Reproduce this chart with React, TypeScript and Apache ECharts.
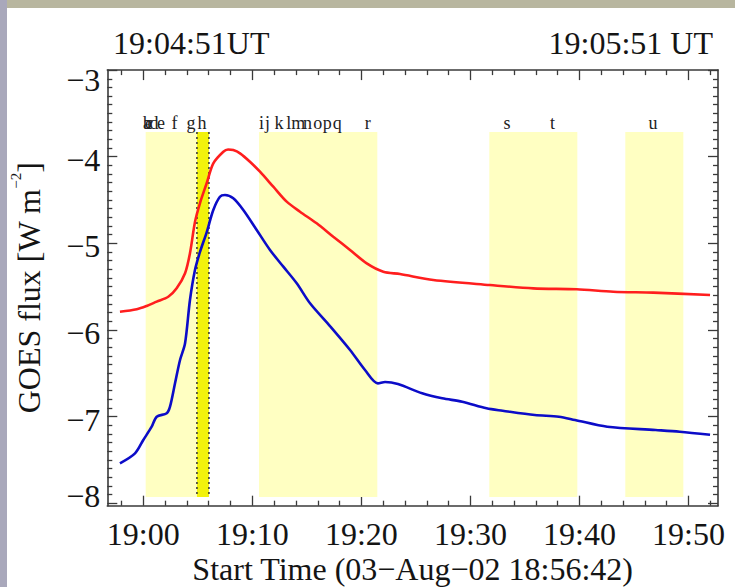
import React, { useEffect, useRef } from 'react';
import * as echarts from 'echarts';

const FONT = '"Liberation Serif", "Times New Roman", serif';

// Time axis: minutes after 19:00 UT (start time 18:56:42)
const xMin = -3.3;
const xMax = 52.7;
const yMin = -8.03;
const yMax = -3;

// GOES long channel (1-8 A), log10 flux
const redTime = [-2.14, -0.6, 0.31, 1.23, 2.29, 3.06, 3.83, 4.28, 4.74, 5.2, 5.82, 6.42, 7.34, 7.77, 8.25, 8.87, 9.78, 10.7, 11.92, 13.15, 14.37, 15.9, 17.42, 18.96, 20.49, 22.01, 23.54, 26.59, 31.79, 35.76, 39.74, 43.1, 46.77, 51.97];
const redFlux = [-5.79, -5.762, -5.724, -5.674, -5.617, -5.52, -5.346, -5.115, -4.754, -4.535, -4.304, -4.076, -3.942, -3.917, -3.923, -3.961, -4.058, -4.173, -4.346, -4.519, -4.635, -4.769, -4.924, -5.077, -5.231, -5.328, -5.355, -5.424, -5.482, -5.52, -5.531, -5.559, -5.57, -5.597];

// GOES short channel (0.5-4 A), log10 flux
const blueTime = [-2.14, -0.76, 0.0, 0.77, 1.23, 2.15, 2.45, 2.91, 3.37, 3.83, 4.28, 4.74, 5.2, 5.82, 6.42, 7.03, 7.49, 8.25, 9.17, 10.4, 11.62, 12.84, 14.07, 15.29, 17.12, 18.96, 20.33, 21.51, 22.17, 23.35, 25.57, 27.41, 29.25, 31.47, 32.95, 35.9, 38.11, 39.59, 42.54, 46.98, 49.19, 51.97];
const blueFlux = [-7.54, -7.425, -7.271, -7.118, -7.002, -6.963, -6.887, -6.617, -6.348, -6.155, -5.655, -5.308, -5.1, -4.87, -4.615, -4.462, -4.442, -4.48, -4.615, -4.846, -5.077, -5.27, -5.462, -5.693, -5.956, -6.232, -6.463, -6.617, -6.601, -6.625, -6.732, -6.79, -6.829, -6.905, -6.933, -6.983, -7.002, -7.04, -7.118, -7.156, -7.176, -7.21];

const xTickMinutes = [0, 10, 20, 30, 40, 50];
const xTickLabels = ['19:00', '19:10', '19:20', '19:30', '19:40', '19:50'];
const yTicks = [-8, -7, -6, -5, -4, -3];
const yTickLabels = ['\u22128', '\u22127', '\u22126', '\u22125', '\u22124', '\u22123'];

// observation intervals (pale yellow)
const bandStart = [0.22, 10.61, 31.73, 35.37, 44.2];
const bandEnd = [4.92, 21.46, 35.37, 39.8, 49.52];
// selected interval (bright yellow)
const selStart = [4.92];
const selEnd = [6.02];
const bandTopFlux = -3.715;
const bandBottomFlux = -7.93;

const letterNames = ['a', 'b', 'c', 'd', 'e', 'f', 'g', 'h', 'i', 'j', 'k', 'l', 'm', 'n', 'o', 'p', 'q', 'r', 's', 't', 'u'];
const letterTimes = [0.34, 0.39, 0.53, 0.99, 1.63, 2.86, 4.38, 5.38, 10.84, 11.39, 12.45, 13.33, 14.2, 15.05, 15.99, 16.86, 17.78, 20.58, 33.35, 37.53, 46.74];

const startTitle = '19:04:51UT';
const endTitle = '19:05:51 UT';
const xName = 'Start Time (03\u2212Aug\u221202 18:56:42)';

const xMinor: number[] = [];
for (let t = -2; t <= 52; t += 2) if (t % 10 !== 0) xMinor.push(t);
const yMinor: number[] = [];
for (let k = -80; k <= -30; k++) if (k % 10 !== 0) yMinor.push(k / 10);

const AXIS_COLOR = '#3a3a3a';
const TEXT_COLOR = '#141414';

function xAxisDef(position: 'top' | 'bottom', values: number[], len: number, line: boolean, label: boolean): any {
  return {
    type: 'value',
    position,
    min: xMin,
    max: xMax,
    splitLine: { show: false },
    axisLine: { show: line, onZero: false, lineStyle: { color: AXIS_COLOR, width: 1.6 } },
    axisTick: { show: true, inside: true, length: len, customValues: values, lineStyle: { color: AXIS_COLOR, width: 1.3 } },
    axisLabel: label
      ? {
          show: true,
          customValues: xTickMinutes,
          formatter: (v: number) => xTickLabels[xTickMinutes.indexOf(Math.round(v))] ?? '',
          fontFamily: FONT,
          fontSize: 32,
          color: TEXT_COLOR,
          margin: 12,
        }
      : { show: false },
  };
}

const yLabelRich: any = {};
yTicks.forEach((_t, i) => {
  let padding = [6, 0, 0, 0];
  if (i === 0) padding = [0, 0, 14, 0];
  if (i === yTicks.length - 1) padding = [20, 0, 0, 0];
  yLabelRich['y' + i] = { fontFamily: FONT, fontSize: 32, color: TEXT_COLOR, padding };
});

function yAxisDef(position: 'left' | 'right', values: number[], len: number, line: boolean, label: boolean): any {
  return {
    type: 'value',
    position,
    min: yMin,
    max: yMax,
    splitLine: { show: false },
    axisLine: { show: line, onZero: false, lineStyle: { color: AXIS_COLOR, width: 1.6 } },
    axisTick: { show: true, inside: true, length: len, customValues: values, lineStyle: { color: AXIS_COLOR, width: 1.3 } },
    axisLabel: label
      ? {
          show: true,
          customValues: yTicks,
          formatter: (v: number) => {
            const i = yTicks.indexOf(Math.round(v));
            return i < 0 ? '' : `{y${i}|${yTickLabels[i]}}`;
          },
          fontFamily: FONT,
          fontSize: 32,
          color: TEXT_COLOR,
          margin: 7,
          rich: yLabelRich,
        }
      : { show: false },
  };
}

export default function App() {
  const ref = useRef<HTMLDivElement>(null);

  useEffect(() => {
    if (!ref.current) return;
    const chart = echarts.init(ref.current, undefined, { renderer: 'svg' });

    const xAxes = [
      xAxisDef('bottom', xTickMinutes, 10, true, true),
      xAxisDef('bottom', xMinor, 5, false, false),
      xAxisDef('top', xTickMinutes, 10, true, false),
      xAxisDef('top', xMinor, 5, false, false),
    ];
    xAxes[0].name = xName;
    xAxes[0].nameLocation = 'middle';
    xAxes[0].nameGap = 48;
    xAxes[0].nameMoveOverlap = false;
    xAxes[0].nameTextStyle = { fontFamily: FONT, fontSize: 32, color: TEXT_COLOR, lineHeight: 30 };

    const yAxes = [
      yAxisDef('left', yTicks, 10, true, true),
      yAxisDef('left', yMinor, 5, false, false),
      yAxisDef('right', yTicks, 10, true, false),
      yAxisDef('right', yMinor, 5, false, false),
    ];
    yAxes[0].name = 'GOES flux [W m{sup|\u22122}]';
    yAxes[0].nameLocation = 'middle';
    yAxes[0].nameGap = 57;
    yAxes[0].nameMoveOverlap = false;
    yAxes[0].nameTextStyle = {
      fontFamily: FONT,
      fontSize: 32,
      color: TEXT_COLOR,
      lineHeight: 42,
      rich: {
        sup: { fontFamily: FONT, fontSize: 15, lineHeight: 15, color: TEXT_COLOR, verticalAlign: 'top' },
      },
    };

    const option: any = {
      animation: false,
      backgroundColor: '#ffffff',
      grid: { left: 107.3, right: 17, top: 70.1, bottom: 81.3, containLabel: false, outerBoundsMode: 'none' },
      xAxis: xAxes,
      yAxis: yAxes,
      graphic: [
        { type: 'rect', shape: { x: 0, y: 0, width: 735, height: 8 }, style: { fill: '#b8b69f' }, silent: true },
        { type: 'rect', shape: { x: 0, y: 0, width: 7, height: 587 }, style: { fill: '#a9a8bb' }, silent: true },
        {
          type: 'text',
          x: 113,
          y: 43,
          style: { text: startTitle, font: `32px ${FONT}`, fill: TEXT_COLOR, align: 'left', verticalAlign: 'middle' },
        },
        {
          type: 'text',
          x: 713,
          y: 43,
          style: { text: endTitle, font: `32px ${FONT}`, fill: TEXT_COLOR, align: 'right', verticalAlign: 'middle' },
        },
      ],
      series: [
        {
          type: 'custom',
          name: 'intervals',
          z: 1,
          silent: true,
          data: bandStart.map((s, i) => [s, bandEnd[i]]),
          encode: { x: [0, 1] },
          renderItem: (_params: any, api: any) => {
            const p0 = api.coord([api.value(0), bandTopFlux]);
            const p1 = api.coord([api.value(1), bandBottomFlux]);
            return {
              type: 'rect',
              shape: { x: p0[0], y: p0[1], width: p1[0] - p0[0], height: p1[1] - p0[1] },
              style: { fill: '#ffffc2' },
            };
          },
        },
        {
          type: 'custom',
          name: 'selected',
          z: 1,
          silent: true,
          data: selStart.map((s, i) => [s, selEnd[i]]),
          encode: { x: [0, 1] },
          renderItem: (_params: any, api: any) => {
            const p0 = api.coord([api.value(0), bandTopFlux]);
            const p1 = api.coord([api.value(1), bandBottomFlux]);
            const dash = { stroke: '#333', lineWidth: 1.5, lineDash: [2, 3] };
            return {
              type: 'group',
              children: [
                {
                  type: 'rect',
                  shape: { x: p0[0], y: p0[1], width: p1[0] - p0[0], height: p1[1] - p0[1] },
                  style: { fill: '#f2f20c' },
                },
                { type: 'line', shape: { x1: p0[0], y1: p0[1], x2: p0[0], y2: p1[1] }, style: dash },
                { type: 'line', shape: { x1: p1[0], y1: p0[1], x2: p1[0], y2: p1[1] }, style: dash },
              ],
            };
          },
        },
        {
          type: 'line',
          name: 'GOES 1-8 A',
          z: 3,
          data: redTime.map((t, i) => [t, redFlux[i]]),
          showSymbol: false,
          smooth: 0.3,
          lineStyle: { color: '#ff1e1e', width: 2.6 },
          itemStyle: { color: '#ff1e1e' },
        },
        {
          type: 'line',
          name: 'GOES 0.5-4 A',
          z: 3,
          data: blueTime.map((t, i) => [t, blueFlux[i]]),
          showSymbol: false,
          smooth: 0.3,
          lineStyle: { color: '#0c0cc8', width: 2.6 },
          itemStyle: { color: '#0c0cc8' },
        },
        {
          type: 'custom',
          name: 'labels',
          z: 4,
          silent: true,
          data: letterTimes.map((t) => [t, bandTopFlux]),
          encode: { x: 0, y: 1 },
          renderItem: (params: any, api: any) => {
            const p = api.coord([api.value(0), api.value(1)]);
            return {
              type: 'text',
              x: p[0],
              y: p[1],
              style: {
                text: letterNames[params.dataIndex],
                font: `18px ${FONT}`,
                fill: '#222',
                align: 'center',
                verticalAlign: 'bottom',
              },
            };
          },
        },
      ],
    };

    chart.setOption(option);
    return () => chart.dispose();
  }, []);

  return <div ref={ref} style={{ position: 'absolute', left: 0, top: 0, width: 735, height: 587 }} />;
}
